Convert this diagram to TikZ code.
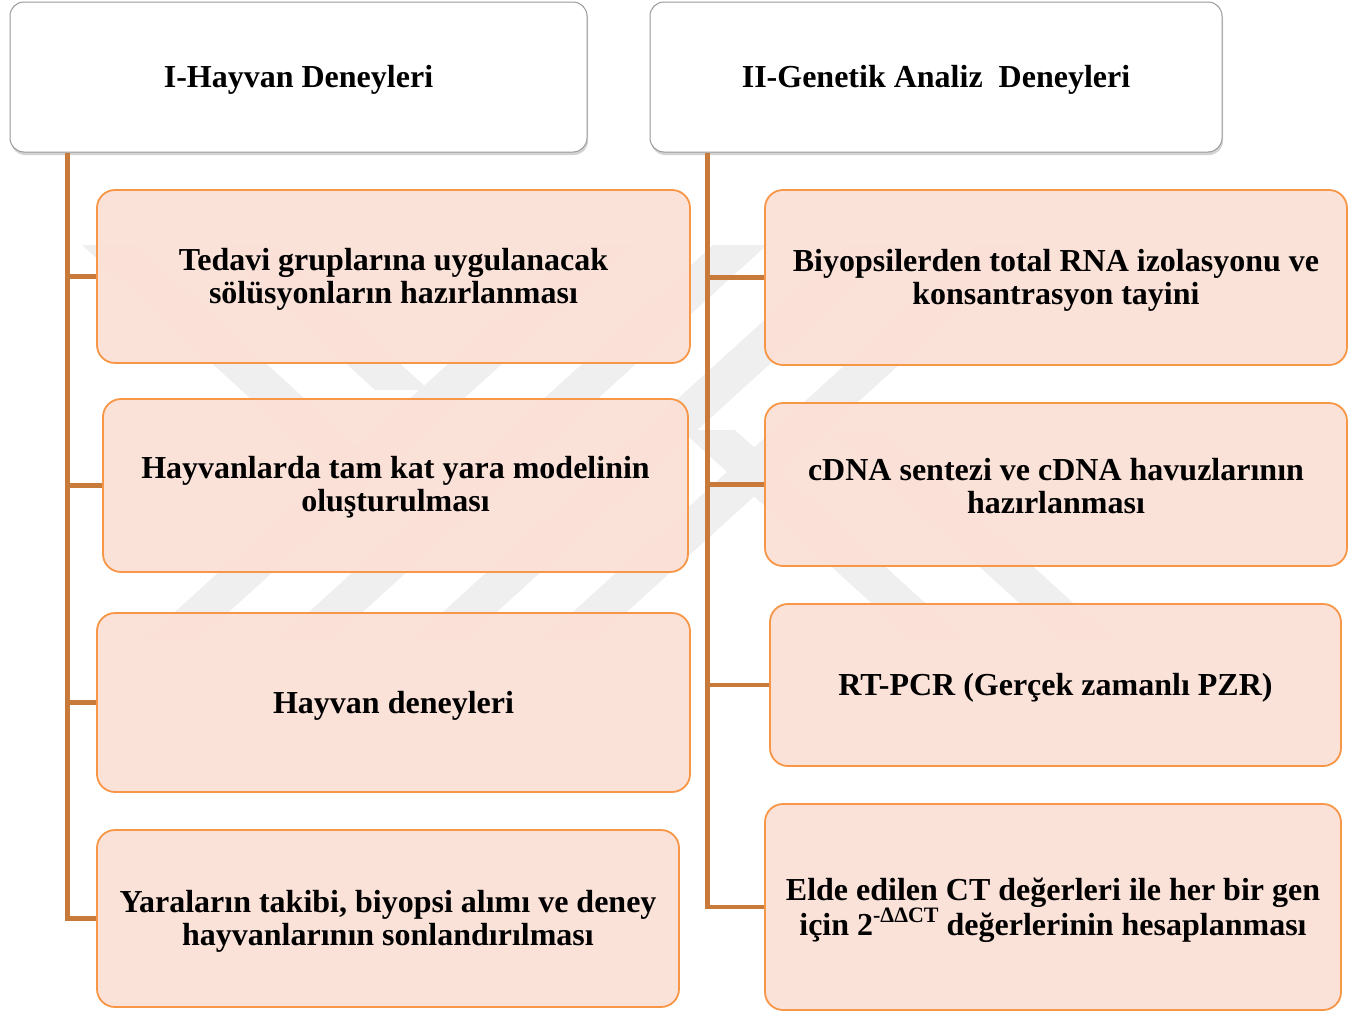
\documentclass[tikz,border=0pt]{standalone}
\usepackage{fontspec}
\setmainfont{Liberation Serif}
\usetikzlibrary{shadows}
\definecolor{spinec}{HTML}{C87A3A}
\definecolor{boxline}{HTML}{F79646}
\definecolor{boxfill}{HTML}{FBE0D6}
\definecolor{hdrline}{HTML}{9A9A9A}
\definecolor{wmark}{HTML}{EFEFEF}
\tikzset{
  header/.style={draw=hdrline, line width=1pt, fill=white, rounded corners=14pt,
    drop shadow={shadow xshift=1pt, shadow yshift=-3pt, opacity=0.35}, inner sep=0pt},
  itembox/.style={draw=boxline, line width=1.8pt, fill=boxfill, fill opacity=0.94,
    rounded corners=18pt, inner sep=0pt},
  boxtext/.style={inner sep=0pt, align=center, font=\bfseries\fontsize{32}{33}\selectfont},
  conn/.style={draw=spinec, line width=4.5pt},
  wm/.style={fill=wmark, draw=none}
}
\begin{document}
\begin{tikzpicture}[x=1pt,y=-1pt]
\useasboundingbox (0,0) rectangle (1363,1012);
% watermark
\fill[wm] (579,245) -- (633,245) -- (198,640) -- (144,640) -- cycle;
\fill[wm] (713,245) -- (767,245) -- (332,640) -- (278,640) -- cycle;
\fill[wm] (847,245) -- (901,245) -- (466,640) -- (412,640) -- cycle;
\fill[wm] (977,245) -- (1031,245) -- (596,640) -- (542,640) -- cycle;
\fill[wm] (82,245) -- (136,245) -- (394,480) -- (340,480) -- cycle;
\fill[wm] (216,245) -- (270,245) -- (429,390) -- (375,390) -- cycle;
\fill[wm] (681,430) -- (735,430) -- (966,640) -- (912,640) -- cycle;
\fill[wm] (829,430) -- (883,430) -- (1114,640) -- (1060,640) -- cycle;
% headers
\node[header, minimum width=577pt, minimum height=150pt] (h1) at (298.5,77) {};
\node[header, minimum width=572pt, minimum height=150pt] (h2) at (936,77) {};
% left items
\node[itembox, minimum width=593pt, minimum height=173pt] (l1) at (393.5,276.5) {};
\node[itembox, minimum width=585pt, minimum height=173pt] (l2) at (395.5,485.5) {};
\node[itembox, minimum width=593pt, minimum height=179pt] (l3) at (393.5,702.5) {};
\node[itembox, minimum width=582pt, minimum height=177pt] (l4) at (388,918.5) {};
% right items
\node[itembox, minimum width=582pt, minimum height=175pt] (r1) at (1056,277.5) {};
\node[itembox, minimum width=582pt, minimum height=163pt] (r2) at (1056,484.5) {};
\node[itembox, minimum width=571pt, minimum height=162pt] (r3) at (1055.5,685) {};
\node[itembox, minimum width=576pt, minimum height=206pt] (r4) at (1053,907) {};
% texts
\node[boxtext] (h1t) at ([yshift=-3pt]h1.center) {I-Hayvan Deneyleri};
\node[boxtext] (h2t) at ([yshift=-3pt]h2.center) {II-Genetik Analiz\ \ Deneyleri};
\node[boxtext] (l1t) at ([yshift=-3pt]l1.center) {Tedavi gruplarına uygulanacak\\sölüsyonların hazırlanması};
\node[boxtext] (l2t) at ([yshift=-2pt]l2.center) {Hayvanlarda tam kat yara modelinin\\oluşturulması};
\node[boxtext] (l3t) at ([yshift=-3pt]l3.center) {Hayvan deneyleri};
\node[boxtext] (l4t) at ([yshift=-3pt]l4.center) {Yaraların takibi, biyopsi alımı ve deney\\hayvanlarının sonlandırılması};
\node[boxtext] (r1t) at ([yshift=-3pt]r1.center) {Biyopsilerden total RNA izolasyonu ve\\konsantrasyon tayini};
\node[boxtext] (r2t) at ([yshift=-2pt]r2.center) {cDNA sentezi ve cDNA havuzlarının\\hazırlanması};
\node[boxtext] (r3t) at ([yshift=-3pt]r3.center) {RT-PCR (Gerçek zamanlı PZR)};
\node[boxtext] (r4t) at ([yshift=-3pt]r4.center) {Elde edilen CT değerleri ile her bir gen\\için 2\raisebox{0.4em}{\fontsize{22}{22}\selectfont -ΔΔCT} değerlerinin hesaplanması};
% connectors
\draw[conn] (h1.south west) ++(58,0) coordinate (sL) |- (l4.west);
\draw[conn] (sL |- l1.west) -- (l1.west);
\draw[conn] (sL |- l2.west) -- (l2.west);
\draw[conn] (sL |- l3.west) -- (l3.west);
\draw[conn] (h2.south west) ++(58,0) coordinate (sR) |- (r4.west);
\draw[conn] (sR |- r1.west) -- (r1.west);
\draw[conn] (sR |- r2.west) -- (r2.west);
\draw[conn] (sR |- r3.west) -- (r3.west);
\end{tikzpicture}
\end{document}
